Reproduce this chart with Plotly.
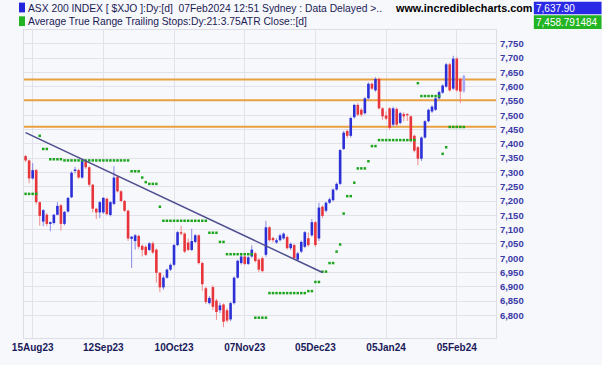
import plotly.graph_objects as go
import pandas as pd

# ---------------- data ----------------
holidays = ["2023-12-25", "2023-12-26", "2024-01-01", "2024-01-26"]
dates = [d.strftime("%Y-%m-%d") for d in pd.bdate_range("2023-08-11", "2024-02-07")
         if d.strftime("%Y-%m-%d") not in holidays]

opens = [7357, 7342, 7279, 7308, 7196, 7128, 7152, 7120, 7123, 7152,
         7185, 7120, 7163, 7213, 7305, 7308, 7282, 7338, 7318, 7257,
         7173, 7160, 7160, 7208, 7151, 7190, 7285, 7234, 7200, 7166,
         7068, 7060, 7078, 7043, 7040, 7029, 7052, 7030, 6949, 6898,
         6932, 6960, 6977, 7046, 7091, 7086, 7055, 7029, 7057, 7080,
         6983, 6895, 6843, 6899, 6852, 6818, 6838, 6818, 6786, 6843,
         6932, 6983, 7006, 6980, 7006, 7017, 6995, 7000, 7012, 7108,
         7071, 7055, 7063, 7069, 7074, 7035, 7046, 6995, 7023, 7040,
         7070, 7080, 7126, 7069, 7180, 7166, 7194, 7203, 7240, 7260,
         7382, 7445, 7428, 7493, 7536, 7519, 7507, 7559, 7610, 7587,
         7627, 7524, 7499, 7524, 7467, 7522, 7473, 7504, 7504, 7496,
         7428, 7388, 7348, 7422, 7479, 7513, 7519, 7559, 7579, 7600,
         7678, 7593, 7698, 7627, 7583]
highs = [7361, 7345, 7333, 7312, 7198, 7172, 7158, 7128, 7155, 7196,
         7190, 7165, 7214, 7304, 7319, 7313, 7348, 7342, 7322, 7260,
         7176, 7200, 7214, 7212, 7200, 7322, 7290, 7238, 7204, 7170,
         7078, 7085, 7082, 7048, 7045, 7056, 7058, 7034, 6952, 6940,
         6964, 6982, 7050, 7095, 7114, 7090, 7069, 7103, 7085, 7084,
         6988, 6900, 6868, 6905, 6858, 6845, 6842, 6825, 6848, 6936,
         6995, 7012, 7010, 7008, 7045, 7022, 7000, 7005, 7131, 7112,
         7075, 7070, 7086, 7090, 7080, 7055, 7050, 7022, 7062, 7095,
         7090, 7137, 7130, 7194, 7185, 7198, 7212, 7244, 7265, 7382,
         7445, 7450, 7495, 7540, 7542, 7525, 7563, 7615, 7615, 7633,
         7632, 7528, 7513, 7528, 7530, 7527, 7512, 7510, 7507, 7500,
         7432, 7392, 7426, 7483, 7523, 7535, 7563, 7586, 7608, 7683,
         7683, 7708, 7702, 7632, 7642]
lows = [7336, 7262, 7275, 7188, 7114, 7112, 7112, 7094, 7118, 7150,
        7097, 7115, 7160, 7210, 7296, 7278, 7278, 7312, 7250, 7160,
        7137, 7140, 7155, 7150, 7146, 7185, 7230, 7196, 7162, 7060,
        6966, 7030, 7032, 7006, 7008, 7025, 7015, 6915, 6881, 6890,
        6928, 6955, 6972, 7042, 7080, 7018, 7025, 7025, 7053, 6978,
        6886, 6840, 6838, 6818, 6784, 6808, 6759, 6775, 6780, 6838,
        6928, 6978, 6975, 6976, 7002, 6985, 6952, 6950, 7005, 7058,
        7055, 7050, 7058, 7065, 7030, 7028, 6995, 6990, 7018, 7035,
        7040, 7075, 7040, 7060, 7140, 7160, 7190, 7198, 7236, 7255,
        7378, 7420, 7422, 7488, 7497, 7495, 7502, 7555, 7588, 7582,
        7520, 7484, 7483, 7450, 7460, 7462, 7468, 7479, 7480, 7405,
        7370, 7325, 7340, 7418, 7475, 7508, 7515, 7555, 7575, 7596,
        7582, 7588, 7582, 7542, 7578]
closes = [7342, 7279, 7308, 7196, 7148, 7168, 7120, 7126, 7152, 7183,
          7120, 7162, 7211, 7299, 7310, 7282, 7342, 7318, 7257, 7173,
          7160, 7196, 7211, 7154, 7196, 7282, 7234, 7200, 7166, 7069,
          7075, 7080, 7040, 7029, 7012, 7052, 7020, 6949, 6898, 6932,
          6960, 6977, 7046, 7091, 7086, 7023, 7029, 7060, 7080, 6983,
          6909, 6847, 6861, 6830, 6812, 6835, 6778, 6782, 6843, 6932,
          6991, 7006, 6980, 7003, 7030, 6990, 6960, 6955, 7108, 7063,
          7063, 7063, 7080, 7086, 7035, 7050, 7000, 7017, 7057, 7091,
          7046, 7126, 7046, 7177, 7148, 7194, 7206, 7240, 7260, 7378,
          7439, 7428, 7490, 7536, 7502, 7502, 7559, 7610, 7593, 7627,
          7524, 7496, 7488, 7456, 7524, 7467, 7507, 7496, 7500, 7411,
          7376, 7348, 7422, 7479, 7519, 7530, 7559, 7581, 7604, 7678,
          7587, 7698, 7587, 7583, 7637.90]

atr_stop = ([7225] * 4 + [7428] + [7382] * 2 + [7346] * 4 + [7342] * 19 +
            [7304] * 3 + [7282, 7266] + [7260] * 3 + [7180] + [7131] * 13 +
            [7089] * 3 + [7057] * 2 + [7014] * 8 + [6792] * 4 + [6878] * 11 +
            [6885] * 2 + [6917] * 2 + [6953] * 2 + [6983] * 2 + [7023, 7048, 7156] +
            [7217] * 2 + [7264] + [7314] * 3 + [7339] + [7392] * 2 + [7413] * 11 +
            [7612] + [7567] * 6 + [7365, 7388] + [7459] * 4 + [7458.791484])

tick_dates = ["2023-08-15", "2023-09-12", "2023-10-10", "2023-11-07",
              "2023-12-05", "2024-01-05", "2024-02-05"]
tick_labels = ["15Aug23", "12Sep23", "10Oct23", "07Nov23", "05Dec23", "05Jan24", "05Feb24"]
price_ticks = [6800, 6850, 6900, 6950, 7000, 7050, 7100, 7150, 7200, 7250,
               7300, 7350, 7400, 7450, 7500, 7550, 7600, 7650, 7700, 7750]
level_lines = [7625, 7552, 7460]
trend_dates = ["2023-08-11", "2023-12-07"]
trend_values = [7439, 6950]
last_close = 7637.90
last_stop = 7458.791484

# ---------------- figure ----------------
W, H = 602, 365
L, R, T, B = 22, 106, 30, 20
PW, PH = W - L - R, H - T - B
X_RANGE = [-0.45, 133.1]
Y_RANGE = [6721, 7798]


def px(xp):
    return (xp - L) / PW


def py(yp):
    return (H - B - yp) / PH


BLUE = "#2b2fd6"
RED = "#e8353b"
BLUE_WICK = "#8a8ae4"
RED_WICK = "#f08c8c"
LAST = "#a8a8f2"
LAST_WICK = "#b8b8f4"

n = len(dates)
xs = list(range(n))
fig = go.Figure()

# horizontal support / resistance levels (drawn first, under candles)
for lv in level_lines:
    fig.add_trace(go.Scatter(x=X_RANGE, y=[lv, lv], mode="lines",
                             line=dict(color="#e8a040", width=2),
                             hoverinfo="skip", showlegend=False))

# group candles by colour; wicks then bodies, both as line segments
groups = {"b": (BLUE_WICK, BLUE), "r": (RED_WICK, RED), "l": (LAST_WICK, LAST)}
wick_xy = {k: ([], []) for k in groups}
body_xy = {k: ([], []) for k in groups}
for i in xs:
    if i == n - 1:
        k = "l"
    elif closes[i] >= opens[i]:
        k = "b"
    else:
        k = "r"
    wick_xy[k][0].extend([i, i, None])
    wick_xy[k][1].extend([lows[i], highs[i], None])
    lo, hi = min(opens[i], closes[i]), max(opens[i], closes[i])
    if hi - lo < 3:
        mid = (hi + lo) / 2
        lo, hi = mid - 1.5, mid + 1.5
    body_xy[k][0].extend([i, i, None])
    body_xy[k][1].extend([lo, hi, None])

for k, (wc, bc) in groups.items():
    fig.add_trace(go.Scatter(x=wick_xy[k][0], y=wick_xy[k][1], mode="lines",
                             line=dict(color=wc, width=1), hoverinfo="skip", showlegend=False))
for k, (wc, bc) in groups.items():
    fig.add_trace(go.Scatter(x=body_xy[k][0], y=body_xy[k][1], mode="lines",
                             line=dict(color=bc, width=2.6), hoverinfo="skip", showlegend=False))

# ATR trailing stops
fig.add_trace(go.Scatter(x=xs, y=atr_stop, mode="markers",
                         marker=dict(symbol="square", size=2.5, color="#1ea51e"),
                         showlegend=False, hoverinfo="skip"))

# trend line
fig.add_trace(go.Scatter(x=[dates.index(d) for d in trend_dates], y=trend_values,
                         mode="lines", line=dict(color="#4e4e8e", width=1.5),
                         showlegend=False, hoverinfo="skip"))

shapes = []
# header legend icons and value boxes
shapes.append(dict(type="rect", xref="paper", yref="paper", x0=px(17), x1=px(23),
                   y0=py(12), y1=py(2), fillcolor="#2424dc", line=dict(width=0)))
shapes.append(dict(type="rect", xref="paper", yref="paper", x0=px(17), x1=px(23),
                   y0=py(26), y1=py(16), fillcolor="#22b422", line=dict(width=0)))
shapes.append(dict(type="rect", xref="paper", yref="paper", x0=px(534), x1=px(602),
                   y0=py(14), y1=py(1), fillcolor="#2a2ae6", line=dict(width=0)))
shapes.append(dict(type="rect", xref="paper", yref="paper", x0=px(534), x1=px(602),
                   y0=py(29), y1=py(15), fillcolor="#22b422", line=dict(width=0)))

FONT = "Liberation Sans, Arial, sans-serif"
ann = []
ann.append(dict(text="ASX 200 INDEX [ $XJO ]:Dy:[d]  07Feb2024 12:51 Sydney : Data Delayed >..",
                x=px(24), y=py(7.5), xref="paper", yref="paper", xanchor="left", yanchor="middle",
                showarrow=False, font=dict(family=FONT, size=10.3, color="#1b1b55")))
ann.append(dict(text="Average True Range Trailing Stops:Dy:21:3.75ATR Close::[d]",
                x=px(24), y=py(21.5), xref="paper", yref="paper", xanchor="left", yanchor="middle",
                showarrow=False, font=dict(family=FONT, size=10.3, color="#1b1b55")))
ann.append(dict(text="www.incrediblecharts.com",
                x=px(393), y=py(7.5), xref="paper", yref="paper", xanchor="left", yanchor="middle",
                showarrow=False, font=dict(family=FONT, size=10.8, color="#000000", weight="bold")))
ann.append(dict(text=f"{last_close:,.2f}",
                x=px(534), y=py(7.5), xref="paper", yref="paper", xanchor="left", yanchor="middle",
                showarrow=False, font=dict(family=FONT, size=10, color="#ffffff")))
ann.append(dict(text=f"{last_stop:,.6f}",
                x=px(534), y=py(22), xref="paper", yref="paper", xanchor="left", yanchor="middle",
                showarrow=False, font=dict(family=FONT, size=10, color="#ffffff")))

fig.update_layout(
    width=W, height=H,
    margin=dict(l=L, r=R, t=T, b=B),
    paper_bgcolor="#f7f8fc", plot_bgcolor="#f7f8fc",
    showlegend=False, hovermode=False,
    shapes=shapes, annotations=ann,
    xaxis=dict(range=X_RANGE, tickmode="array",
               tickvals=[dates.index(d) for d in tick_dates], ticktext=tick_labels,
               showgrid=True, gridcolor="#e2e3ea", gridwidth=1, zeroline=False,
               showline=True, linecolor="#dcdde5", mirror=True, ticks="",
               tickfont=dict(family=FONT, size=10, color="#1a1a5a", weight="bold"),
               fixedrange=True),
    yaxis=dict(side="right", range=Y_RANGE, tickmode="array",
               tickvals=price_ticks, ticktext=[f"{v:,}" for v in price_ticks],
               showgrid=True, gridcolor="#e2e3ea", gridwidth=1, zeroline=False,
               showline=True, linecolor="#dcdde5", mirror=True, ticks="", ticklen=0,
               ticklabelstandoff=1,
               tickfont=dict(family=FONT, size=9.5, color="#3a3aa6", weight="bold"),
               fixedrange=True),
)

fig.write_html("out.html", config={"displayModeBar": False},
               post_script="document.body.style.margin='0';document.body.style.padding='0';")
